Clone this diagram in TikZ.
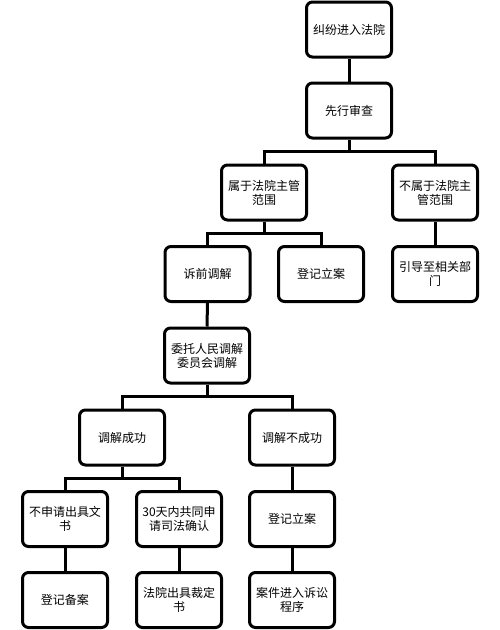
\documentclass[tikz,border=0pt]{standalone}
\usepackage{fontspec}
\newfontfamily\cjk{Noto Sans CJK SC}
\begin{document}
\begin{tikzpicture}[x=1pt,y=-1pt,
  box/.style={draw=black, line width=3pt, rounded corners=6pt, minimum width=85pt, minimum height=55pt,
    inner sep=0pt, align=center, font=\cjk\fontsize{12}{14}\selectfont, fill=white},
  link/.style={draw=black, line width=3pt}]
\useasboundingbox[fill=white] (0,0) rectangle (500,630);
\node[box] (a) at (349,29.5) {纠纷进入法院};
\node[box] (b) at (349,110.5) {先行审查};
\node[box] (c) at (264,192.5) {属于法院主管\\范围};
\node[box] (d) at (435,192.5) {不属于法院主\\管范围};
\node[box] (e) at (207.5,274) {诉前调解};
\node[box] (f) at (321,274) {登记立案};
\node[box] (g) at (435,274) {引导至相关部\\门};
\node[box] (h) at (207,355.5) {委托人民调解\\委员会调解};
\node[box] (i) at (122,437.5) {调解成功};
\node[box] (j) at (292,437.5) {调解不成功};
\node[box] (k) at (65,519) {不申请出具文\\书};
\node[box] (l) at (179,519) {30天内共同申\\请司法确认};
\node[box] (m) at (292,519) {登记立案};
\node[box] (n) at (65,600) {登记备案};
\node[box] (o) at (179,600) {法院出具裁定\\书};
\node[box] (p) at (292,600) {案件进入诉讼\\程序};
\begin{scope}[on background layer/.style={}]
\end{scope}
\draw[link] (a.south) -- (b.north);
\draw[link] (b.south) -- ++(0,11.5) -| (c.north);
\draw[link] (b.south) -- ++(0,11.5) -| (d.north);
\draw[link] (d.south) -- (g.north);
\draw[link] (c.south) -- ++(0,11.5) -| (e.north);
\draw[link] (c.south) -- ++(0,11.5) -| (f.north);
\draw[link] (e.south) -- (h.north);
\draw[link] (h.south) -- ++(0,11.5) -| (i.north);
\draw[link] (h.south) -- ++(0,11.5) -| (j.north);
\draw[link] (i.south) -- ++(0,11.5) -| (k.north);
\draw[link] (i.south) -- ++(0,11.5) -| (l.north);
\draw[link] (j.south) -- (m.north);
\draw[link] (k.south) -- (n.north);
\draw[link] (l.south) -- (o.north);
\draw[link] (m.south) -- (p.north);
\end{tikzpicture}
\end{document}
